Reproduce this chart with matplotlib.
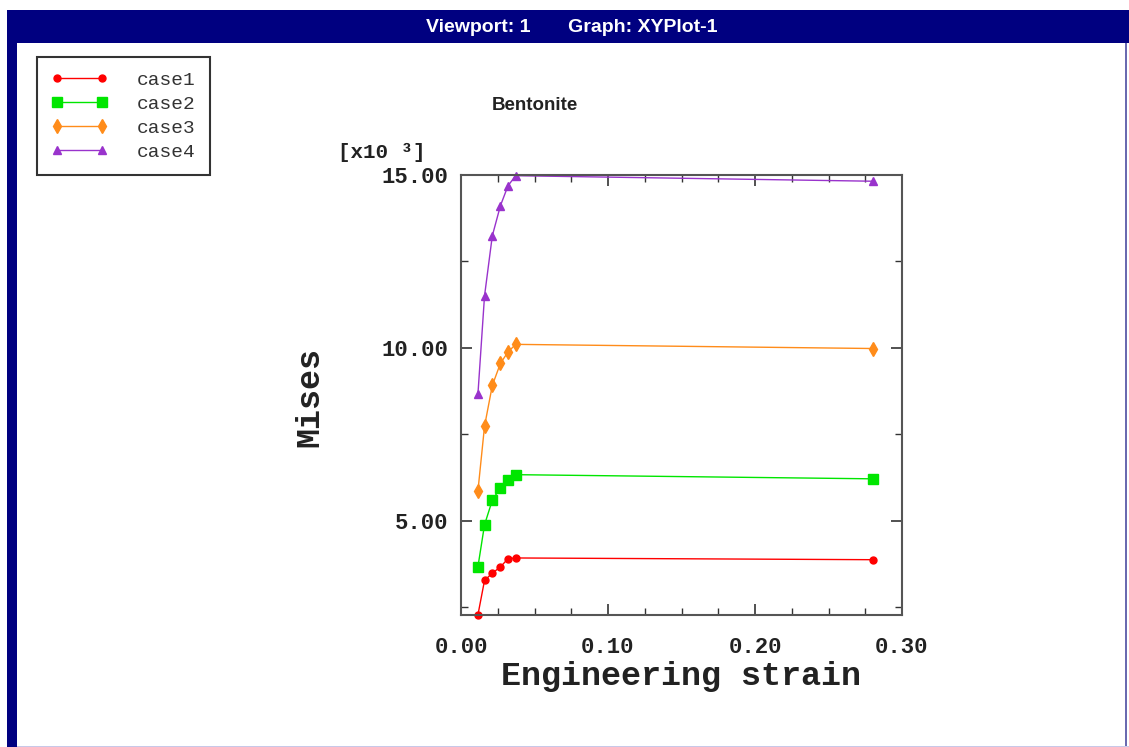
import matplotlib
matplotlib.use('Agg')
import matplotlib.pyplot as plt
from matplotlib.patches import Rectangle
from matplotlib.ticker import MultipleLocator, FuncFormatter

# data (Mises in plain units)
strain = [0.0115, 0.0160, 0.0213, 0.0268, 0.0320, 0.0372, 0.280]
case1 = [2270, 3270, 3480, 3660, 3900, 3920, 3870]
case2 = [3660, 4880, 5590, 5950, 6190, 6330, 6210]
case3 = [5850, 7730, 8910, 9550, 9880, 10100, 9980]
case4 = [8650, 11500, 13240, 14110, 14690, 14980, 14820]
labels = ['case1', 'case2', 'case3', 'case4']
series = [case1, case2, case3, case4]
colors = ['#ff0000', '#00e600', '#ff8c1a', '#9933cc']
markers = ['o', 's', 'd', '^']
msizes = [5, 7, 7, 6]

W, H = 1129, 747
fig = plt.figure(figsize=(W / 100, H / 100), dpi=100)
navy = '#000080'

# viewport frame
fig.patches.append(Rectangle((7 / W, 1 - 43 / H), 1 - 7 / W, 33 / H, transform=fig.transFigure,
                             facecolor=navy, edgecolor='none', zorder=0))
fig.patches.append(Rectangle((7 / W, 0), 10 / W, 1 - 10 / H, transform=fig.transFigure,
                             facecolor=navy, edgecolor='none', zorder=0))
fig.patches.append(Rectangle((1125 / W, 0), 2 / W, 1 - 43 / H, transform=fig.transFigure,
                             facecolor='#6a6ab0', edgecolor='none', zorder=0))
fig.patches.append(Rectangle((17 / W, 0), 1 - 17 / W, 1.5 / H, transform=fig.transFigure,
                             facecolor='#c8c8e8', edgecolor='none', zorder=0))
fig.text(572 / W, 1 - 27 / H, 'Viewport: 1       Graph: XYPlot-1', color='white',
         ha='center', va='center', fontsize=14,
         family=['Liberation Sans Narrow', 'Liberation Sans'], weight='bold')

ax = fig.add_axes([461 / W, 1 - 615 / H, 441 / W, 440 / H])
mono = ['Liberation Mono', 'DejaVu Sans Mono']

handles = []
for ys, lab, c, m, s in zip(series, labels, colors, markers, msizes):
    h, = ax.plot(strain, ys, color=c, marker=m, markersize=s, linewidth=1.0,
                 markeredgecolor=c, label=lab, clip_on=False)
    handles.append(h)

ax.set_xlim(0, 0.30)
ax.set_ylim(2270, 15000)
ax.xaxis.set_major_locator(MultipleLocator(0.10))
ax.xaxis.set_minor_locator(MultipleLocator(0.025))
ax.yaxis.set_major_locator(MultipleLocator(5000))
ax.yaxis.set_minor_locator(MultipleLocator(2500))
ax.xaxis.set_major_formatter(FuncFormatter(lambda v, p: f'{v:.2f}'))
ax.yaxis.set_major_formatter(FuncFormatter(lambda v, p: f'{v / 1000:.2f}'))
ax.tick_params(which='both', direction='in', top=True, right=True, color='#333333')
ax.tick_params(which='major', length=8, width=1.2)
ax.tick_params(which='minor', length=5, width=1.0)
ax.tick_params(axis='x', which='major', pad=16)
ax.tick_params(axis='y', which='major', pad=9)
for spine in ax.spines.values():
    spine.set_color('#555555')
    spine.set_linewidth(1.5)
for t in ax.get_xticklabels() + ax.get_yticklabels():
    t.set_family(mono)
    t.set_weight('bold')
    t.set_fontsize(16)
    t.set_color('#222222')

fig.text(681 / W, 1 - 676 / H, 'Engineering strain', ha='center', va='center',
         fontsize=24, family=mono, weight='bold', color='#222222')
fig.text(310 / W, 1 - 397 / H, 'Mises', ha='center', va='center', rotation=90,
         fontsize=24, family=mono, weight='bold', color='#222222')
fig.text(338 / W, 1 - 152 / H, '[x10 \u00b3]', ha='left', va='center',
         fontsize=15, family=mono, weight='bold', color='#222222')
fig.text(535 / W, 1 - 105 / H, 'Bentonite', ha='center', va='center',
         fontsize=13.5, family=['Liberation Sans Narrow', 'Liberation Sans'],
         weight='bold', color='#222222')

leg = fig.legend(handles=handles, loc='upper left', bbox_to_anchor=(37 / W, 1 - 57 / H),
                 bbox_transform=fig.transFigure, borderaxespad=0, numpoints=2,
                 handlelength=2.9, handletextpad=1.5, labelspacing=0.32, borderpad=0.75,
                 fancybox=False, framealpha=1, edgecolor='#333333',
                 prop={'family': mono, 'size': 14})
leg.get_frame().set_linewidth(1.5)
for t in leg.get_texts():
    t.set_color('#333333')

fig.savefig('out.png', dpi=100)
